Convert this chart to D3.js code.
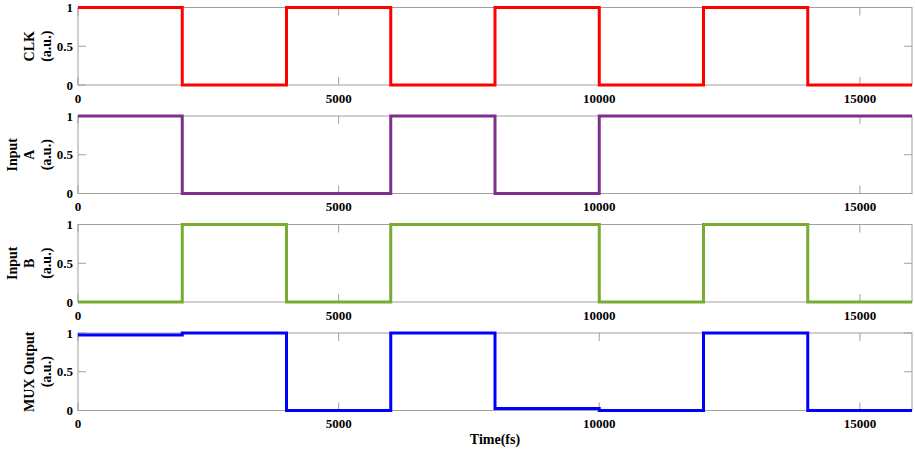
<!DOCTYPE html>
<html>
<head>
<meta charset="utf-8">
<script src="https://d3js.org/d3.v7.min.js"></script>
<style>
body{margin:0;background:#fff;}
svg{display:block;}
text{font-family:"Liberation Serif","Times New Roman",serif;font-weight:bold;fill:#000;}
</style>
</head>
<body>
<svg id="chart" width="915" height="452"></svg>
<script>
// Time breakpoints (fs) for the step waveforms
const times = [0, 2000, 4000, 6000, 8000, 10000, 12000, 14000, 16000];
// Value of each signal on each interval [times[i], times[i+1])
const clk   = [1, 0, 1, 0, 1, 0, 1, 0];
const inA   = [1, 0, 0, 1, 0, 1, 1, 1];
const inB   = [0, 1, 0, 1, 1, 0, 1, 0];
const mux   = [0.975, 1, 0, 1, 0.025, 0, 1, 0];
const xTicks = [0, 5000, 10000, 15000];
const yTicks = [0, 0.5, 1];
const panelLabels = [["CLK", "(a.u.)"], ["Input", "A", "(a.u.)"], ["Input", "B", "(a.u.)"], ["MUX Output", "(a.u.)"]];
const series = [clk, inA, inB, mux];
const colors = ["#ff0000", "#7e2f8e", "#77ac30", "#0000ff"];
const xLabel = "Time(fs)";

const svg = d3.select("#chart");
const left = 78, right = 912;
const tops = [7.5, 116, 224.5, 333];
const ph = 77.5;
const x = d3.scaleLinear().domain([0, 16000]).range([left, right]);
const frameColor = "#a0a0a0";
const tickLen = 8;

series.forEach((vals, i) => {
  const top = tops[i], bottom = top + ph;
  const y = d3.scaleLinear().domain([0, 1]).range([bottom, top]);
  const g = svg.append("g");

  // frame
  g.append("rect").attr("x", left).attr("y", top).attr("width", right - left).attr("height", ph)
    .attr("fill", "none").attr("stroke", frameColor).attr("stroke-width", 1);

  // x ticks (bottom & top, inward)
  xTicks.forEach(t => {
    g.append("line").attr("x1", x(t)).attr("x2", x(t)).attr("y1", bottom).attr("y2", bottom - tickLen)
      .attr("stroke", frameColor);
    g.append("line").attr("x1", x(t)).attr("x2", x(t)).attr("y1", top).attr("y2", top + tickLen)
      .attr("stroke", frameColor);
    g.append("text").attr("x", x(t)).attr("y", bottom + 13).attr("text-anchor", "middle")
      .attr("dominant-baseline", "central").attr("font-size", 13).text(t);
  });
  // y ticks (left & right, inward)
  yTicks.forEach(t => {
    g.append("line").attr("x1", left).attr("x2", left + tickLen).attr("y1", y(t)).attr("y2", y(t))
      .attr("stroke", frameColor);
    g.append("line").attr("x1", right).attr("x2", right - tickLen).attr("y1", y(t)).attr("y2", y(t))
      .attr("stroke", frameColor);
    g.append("text").attr("x", left - 5).attr("y", y(t)).attr("text-anchor", "end")
      .attr("dominant-baseline", "central").attr("font-size", 13).text(t);
  });

  // y label (rotated, multi-line)
  const lines = panelLabels[i];
  const cy = (top + bottom) / 2;
  const lastX = 46, lh = 17;
  lines.forEach((s, k) => {
    const lx = lastX - (lines.length - 1 - k) * lh;
    g.append("text").attr("transform", `translate(${lx},${cy}) rotate(-90)`)
      .attr("text-anchor", "middle").attr("dominant-baseline", "central")
      .attr("font-size", 14).text(s);
  });

  // waveform
  const pts = vals.map((v, k) => [times[k], v]);
  pts.push([times[times.length - 1], vals[vals.length - 1]]);
  const line = d3.line().x(d => x(d[0])).y(d => y(d[1])).curve(d3.curveStepAfter);
  g.append("path").attr("d", line(pts)).attr("fill", "none")
    .attr("stroke", colors[i]).attr("stroke-width", 3).attr("stroke-linejoin", "miter");
});

svg.append("text").attr("x", (left + right) / 2).attr("y", 439).attr("text-anchor", "middle")
  .attr("dominant-baseline", "central").attr("font-size", 14).text(xLabel);
</script>
</body>
</html>
